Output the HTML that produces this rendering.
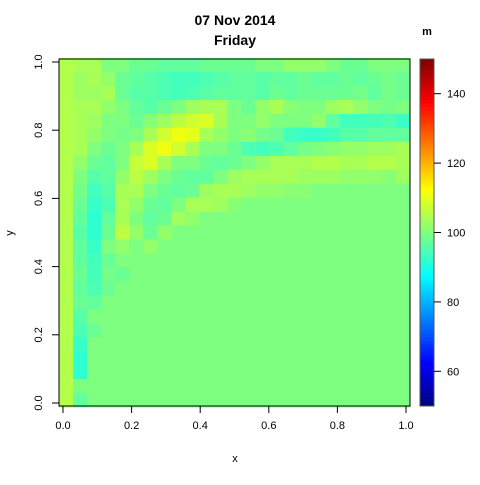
<!DOCTYPE html>
<html><head><meta charset="utf-8"><style>
body{margin:0;background:#fff;}
svg text{font-family:"Liberation Sans",sans-serif;}
</style></head><body>
<svg id="c" width="480" height="480" viewBox="0 0 480 480">
<text x="235" y="25" text-anchor="middle" font-size="14" font-weight="bold">07 Nov 2014</text>
<text x="235" y="45" text-anchor="middle" font-size="14" font-weight="bold">Friday</text>
<text x="427" y="35" text-anchor="middle" font-size="11" font-weight="bold">m</text>
<text x="235" y="462" text-anchor="middle" font-size="11">x</text>
<text x="13" y="233" text-anchor="middle" font-size="11" transform="rotate(-90 13 233)">y</text>
<g id="cells"></g>
<rect x="59" y="59" width="351" height="347" fill="none" stroke="#000" stroke-width="1"/>
<g id="axes"></g>
<g id="cbar"></g>
</svg>
<script>
const xTicks=[0,0.2,0.4,0.6,0.8,1.0];
const xTickLabels=["0.0","0.2","0.4","0.6","0.8","1.0"];
const yTicks=[0,0.2,0.4,0.6,0.8,1.0];
const yTickLabels=["0.0","0.2","0.4","0.6","0.8","1.0"];
const cbTicks=[60,80,100,120,140];
const cbMin=50, cbMax=150;
// rows from top (y≈1) to bottom (y≈0), 25 columns from x=0 to x=1
const values=[
[105,104,104,100,100,98,98,97,97,97,98,98,98,98,100,100,102,102,102,100,98,98,100,100,100],
[105,103,104,102,98,97,96,95,94,94,95,96,97,97,96,97,97,98,97,97,98,97,98,99,98],
[105,103,103,104,98,96,96,95,94,95,96,97,97,97,96,98,97,98,98,98,98,99,97,99,98],
[105,104,104,102,100,97,96,98,100,103,104,104,100,98,102,104,101,100,100,103,104,102,100,99,100],
[105,104,103,100,100,98,101,103,106,108,109,104,100,100,102,100,100,100,102,97,94,94,94,95,93],
[105,104,102,100,99,100,104,108,111,110,104,102,100,101,99,98,94,93,93,94,96,96,97,97,97],
[105,104,100,98,100,104,109,111,108,104,100,100,98,95,94,95,97,99,100,101,102,102,103,103,104],
[105,102,98,97,100,107,109,104,100,100,98,97,98,100,102,104,104,104,105,105,104,104,105,105,104],
[105,100,96,97,102,106,103,100,98,97,97,100,103,104,104,104,104,103,103,103,102,102,102,101,103],
[105,99,94,96,104,104,100,98,97,98,103,104,104,103,102,102,101,101,100,100,100,100,100,100,100],
[105,98,93,95,104,102,98,97,100,104,104,103,101,100,100,100,100,100,100,100,100,100,100,100,100],
[105,97,92,97,104,100,97,98,103,102,100,100,100,100,100,100,100,100,100,100,100,100,100,100,100],
[105,96,92,98,106,102,98,102,100,100,100,100,100,100,100,100,100,100,100,100,100,100,100,100,100],
[105,97,93,100,102,100,102,100,100,100,100,100,100,100,100,100,100,100,100,100,100,100,100,100,100],
[105,97,94,98,100,100,100,100,100,100,100,100,100,100,100,100,100,100,100,100,100,100,100,100,100],
[105,98,94,99,98,100,100,100,100,100,100,100,100,100,100,100,100,100,100,100,100,100,100,100,100],
[105,97,95,98,100,100,100,100,100,100,100,100,100,100,100,100,100,100,100,100,100,100,100,100,100],
[105,98,97,100,100,100,100,100,100,100,100,100,100,100,100,100,100,100,100,100,100,100,100,100,100],
[105,96,100,100,100,100,100,100,100,100,100,100,100,100,100,100,100,100,100,100,100,100,100,100,100],
[105,95,98,100,100,100,100,100,100,100,100,100,100,100,100,100,100,100,100,100,100,100,100,100,100],
[105,93,100,100,100,100,100,100,100,100,100,100,100,100,100,100,100,100,100,100,100,100,100,100,100],
[105,92,100,100,100,100,100,100,100,100,100,100,100,100,100,100,100,100,100,100,100,100,100,100,100],
[105,92,100,100,100,100,100,100,100,100,100,100,100,100,100,100,100,100,100,100,100,100,100,100,100],
[105,100,100,100,100,100,100,100,100,100,100,100,100,100,100,100,100,100,100,100,100,100,100,100,100],
[105,97,100,100,100,100,100,100,100,100,100,100,100,100,100,100,100,100,100,100,100,100,100,100,100]
];
const NS="http://www.w3.org/2000/svg";
const xScale=v=>63+v*343;
const yScale=v=>403-v*341;
const cbScale=v=>406-(v-cbMin)/(cbMax-cbMin)*347;
const stops=[[0,0,127],[0,0,255],[0,127,255],[0,255,255],[127,255,127],[255,255,0],[255,127,0],[255,0,0],[127,0,0]];
function color(v){
  let t=Math.max(0,Math.min(1,(v-cbMin)/(cbMax-cbMin)))*8;
  let i=Math.min(7,Math.floor(t)),f=t-i;
  const a=stops[i],b=stops[i+1];
  return `rgb(${Math.round(a[0]+(b[0]-a[0])*f)},${Math.round(a[1]+(b[1]-a[1])*f)},${Math.round(a[2]+(b[2]-a[2])*f)})`;
}
function mk(tag,attrs,parent){const e=document.createElementNS(NS,tag);for(const k in attrs)e.setAttribute(k,attrs[k]);parent.appendChild(e);return e;}
const cells=document.getElementById('cells');
const nR=values.length,nC=values[0].length;
const lo=-0.0117,hi=1.0117,step=(hi-lo)/nC,ystep=(hi-lo)/nR;
values.forEach((row,r)=>row.forEach((v,c)=>{
  const x0=xScale(lo+c*step),x1=xScale(lo+(c+1)*step);
  const yT=yScale(hi-r*ystep),yB=yScale(hi-(r+1)*ystep);
  const e=mk('rect',{x:x0,y:yT,width:x1-x0+0.5,height:yB-yT+0.5,fill:color(v)},cells);
  
  
}));
const axes=document.getElementById('axes');
xTicks.forEach((t,i)=>{
  const x=xScale(t);
  const l=mk('line',{x1:x,x2:x,y1:406,y2:413,stroke:'#000'},axes);
  
  
  const tx=mk('text',{x:x,y:429,'text-anchor':'middle','font-size':11},axes);
  tx.textContent=xTickLabels[i];
  
  
});
yTicks.forEach((t,i)=>{
  const y=yScale(t);
  const l=mk('line',{x1:52,x2:59,y1:y,y2:y,stroke:'#000'},axes);
  
  
  const tx=mk('text',{x:42,y:y,'text-anchor':'middle','font-size':11,transform:`rotate(-90 42 ${y})`},axes);
  tx.textContent=yTickLabels[i];
  
  
});
const cb=document.getElementById('cbar');
for(let i=0;i<200;i++){
  const v0=cbMin+i*(cbMax-cbMin)/200,v1=cbMin+(i+1)*(cbMax-cbMin)/200;
  const r=mk('rect',{x:420,y:cbScale(v1),width:14,height:cbScale(v0)-cbScale(v1)+0.3,fill:color((v0+v1)/2)},cb);
  
  
}
const fr=mk('rect',{x:420,y:59,width:14,height:347,fill:'none',stroke:'#555'},cb);


cbTicks.forEach(t=>{
  const y=cbScale(t);
  const l=mk('line',{x1:434,x2:441,y1:y,y2:y,stroke:'#000'},cb);
  
  
  const tx=mk('text',{x:447,y:y+4,'font-size':11},cb);
  tx.textContent=t;
  
  
});
</script>
</body></html>
